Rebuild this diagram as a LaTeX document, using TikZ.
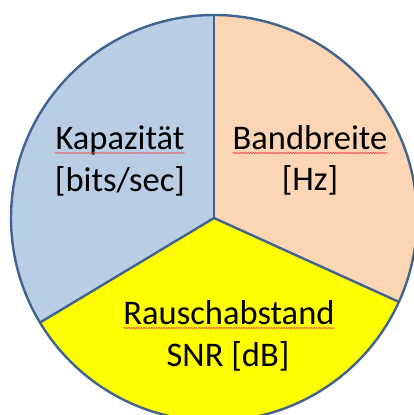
\documentclass[tikz,border=0pt]{standalone}
\usepackage{fontspec}
\setmainfont{Carlito}
\usetikzlibrary{decorations.pathmorphing}
\definecolor{capblue}{HTML}{B9CDE5}
\definecolor{bwpeach}{HTML}{FCD5B5}
\definecolor{snryellow}{HTML}{FFFF00}
\definecolor{edgeblue}{HTML}{41648F}
\definecolor{spellred}{HTML}{E85050}
\tikzset{
  lbl/.style={anchor=base, inner sep=0pt, font=\fontsize{34.5}{42}\selectfont},
  edge/.style={draw=edgeblue, line width=2.4pt, line join=round},
  spell/.style={draw=spellred, line width=0.6pt, decorate,
    decoration={snake, amplitude=0.6pt, segment length=2.5pt}}
}
\begin{document}
\begin{tikzpicture}[x=1pt,y=1pt]
\useasboundingbox (0,0) rectangle (414,415);
\clip (0,0) rectangle (414,415);
\def\R{203}
\coordinate (c) at (214,197);
\fill[capblue] (c) -- ++(90:\R) arc[start angle=90, end angle=211, radius=\R] -- cycle;
\fill[snryellow] (c) -- ++(211:\R) arc[start angle=211, end angle=335.6, radius=\R] -- cycle;
\fill[bwpeach] (c) -- ++(335.6:\R) arc[start angle=-24.4, end angle=90, radius=\R] -- cycle;
\path (c) ++(90:\R) coordinate (pt);
\path (c) ++(211:\R) coordinate (pl);
\path (c) ++(335.6:\R) coordinate (pr);
\draw[edge] (c) circle[radius=\R];
\draw[edge] (c) -- (pt);
\draw[edge] (c) -- (pl);
\draw[edge] (c) -- (pr);
\node[lbl] (k1) at (120,265) {Kapazität};
\node[lbl] (k2) at (120,223) {[bits/sec]};
\node[lbl] (b1) at (310,265) {Bandbreite};
\node[lbl] (b2) at (310,224) {[Hz]};
\node[lbl] (r1) at (229,90) {Rauschabstand};
\node[lbl] (r2) at (228,48) {SNR [dB]};
\draw[spell] ([yshift=-3pt]k1.base west) -- ([yshift=-3pt]k1.base east);
\draw[spell] ([yshift=-3pt]b1.base west) -- ([yshift=-3pt]b1.base east);
\draw[spell] ([yshift=-3pt]r1.base west) -- ([yshift=-3pt]r1.base east);
\end{tikzpicture}
\end{document}
